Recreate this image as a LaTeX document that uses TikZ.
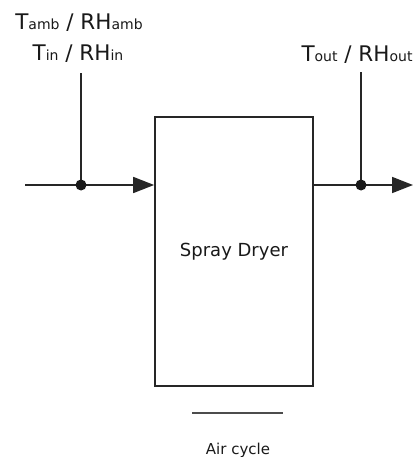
\documentclass[tikz,border=0pt]{standalone}
\usepackage{fontspec}
\setmainfont{DejaVu Sans}
\usetikzlibrary{arrows.meta,positioning}

\newcommand{\idx}[1]{{\fontsize{14}{14}\selectfont #1}}

\begin{document}
\begin{tikzpicture}[
  x=1pt, y=-1pt,
  line/.style={draw=black!85, line width=1.7pt},
  arrow/.style={line, -{Triangle[length=21pt,width=16pt]}},
  dot/.style={circle, fill=black!90, inner sep=0pt, minimum size=11pt},
  lbl/.style={font=\fontsize{21.5}{21.5}\selectfont, inner sep=0pt, anchor=base, text=black!90},
  box/.style={line, fill=white, minimum width=158pt, minimum height=269pt, inner sep=0pt, font=\fontsize{18}{18}\selectfont, text=black!90}
]
\useasboundingbox (0,0) rectangle (419,457);

% dryer
\node[box] (dryer) at (234,251.5) {Spray Dryer};

% inlet side
\coordinate (inlet) at (25,185);
\coordinate (indot) at (81,185);
\node[lbl] (tamb) at (79,30) {T\idx{amb} / RH\idx{amb}};
\node[lbl] (tin) at (78,61) {T\idx{in} / RH\idx{in}};
\draw[arrow] (inlet) -- (indot) -- (inlet -| dryer.west);
\draw[line] (indot) -- ++(0,-112);
\node[dot] at (indot) {};

% outlet side
\coordinate (outdot) at (361,185);
\coordinate (outlet) at (413,185);
\node[lbl] (tout) at (357,62) {T\idx{out} / RH\idx{out}};
\draw[arrow] (outdot -| dryer.east) -- (outdot) -- (outlet);
\draw[line] (outdot) -- ++(0,-113);
\node[dot] at (outdot) {};

% legend
\coordinate (legA) at (192,413);
\coordinate (legB) at (283,413);
\draw[line, draw=black!70] (legA) -- (legB);
\node[lbl, font=\fontsize{15}{15}\selectfont] (air) at (238,454) {Air cycle};
\end{tikzpicture}
\end{document}
